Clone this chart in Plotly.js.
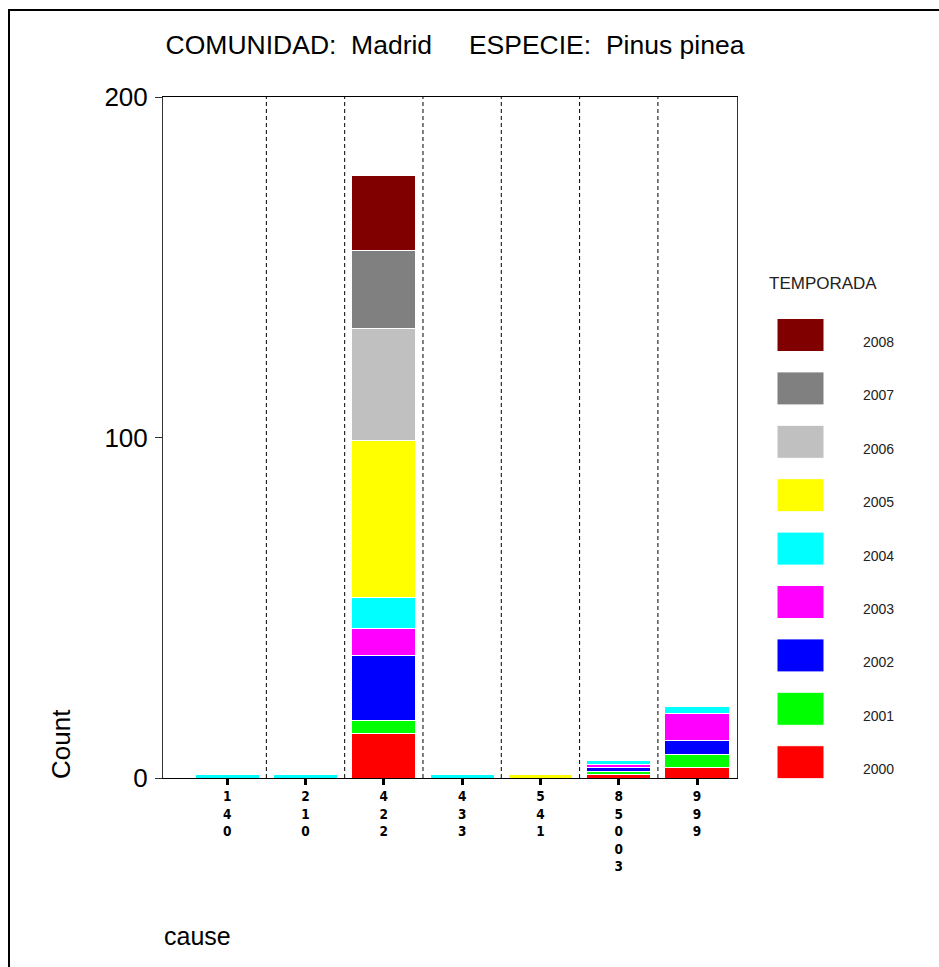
<!DOCTYPE html>
<html>
<head>
<meta charset="utf-8">
<script src="https://cdn.plot.ly/plotly-3.0.1.min.js"></script>
<style>
  html, body { margin: 0; padding: 0; background: #fff; overflow: hidden; }
  #frame { position: absolute; left: 8px; top: 9px; width: 1000px; height: 1000px; border: 2px solid #000; box-sizing: border-box; pointer-events: none; }
  #chart { position: absolute; left: 0; top: 0; width: 939px; height: 967px; }
</style>
</head>
<body>
<div id="chart"></div>
<div id="frame"></div>
<script>
// ---- data ----
const categories = ["140", "210", "422", "433", "541", "85003", "999"];
const years = ["2000", "2001", "2002", "2003", "2004", "2005", "2006", "2007", "2008"];
const colors = ["#FF0000", "#00FF00", "#0000FF", "#FF00FF", "#00FFFF", "#FFFF00", "#C0C0C0", "#808080", "#800000"];
const y2000 = [null, null, 13, null, null, 1, 3];
const y2001 = [null, null, 4, null, null, 1, 4];
const y2002 = [null, null, 19, null, null, 1, 4];
const y2003 = [null, null, 8, null, null, 1, 8];
const y2004 = [1, 1, 9, 1, null, 1, 2];
const y2005 = [null, null, 46, null, 1, null, null];
const y2006 = [null, null, 33, null, null, null, null];
const y2007 = [null, null, 23, null, null, null, null];
const y2008 = [null, null, 22, null, null, null, null];
const seriesValues = [y2000, y2001, y2002, y2003, y2004, y2005, y2006, y2007, y2008];
const yTicks = [0, 100, 200];
const titleText = "COMUNIDAD:\u00A0\u00A0Madrid\u00A0\u00A0\u00A0\u00A0\u00A0ESPECIE:\u00A0\u00A0Pinus pinea";
const legendTitle = "TEMPORADA";

// ---- layout geometry ----
const W = 939, H = 967;
const M = { l: 163, r: 202, t: 97, b: 189 };
const plotW = W - M.l - M.r, plotH = H - M.t - M.b;
const px2x = px => (px - M.l) / plotW;
const py2y = py => (H - M.b - py) / plotH;

const traces = years.map((yr, i) => ({
  type: "bar",
  name: yr,
  x: categories,
  y: seriesValues[i],
  width: 0.82,
  marker: { color: colors[i], line: { color: "#ffffff", width: 1 } },
  showlegend: false,
  hoverinfo: "skip"
}));

const shapes = [];
const annotations = [];
// dashed separators between categories
for (let k = 0; k < categories.length - 1; k++) {
  shapes.push({
    type: "line", xref: "x", yref: "paper",
    x0: k + 0.5, x1: k + 0.5, y0: 0, y1: 1,
    line: { color: "#000", width: 1, dash: "4px,3px" }, layer: "below"
  });
}
// custom legend (top = latest year)
const legOrder = years.map((y, i) => i).reverse();
legOrder.forEach((idx, row) => {
  const cy = 335 + row * 53.4;
  shapes.push({
    type: "rect", xref: "paper", yref: "paper",
    x0: px2x(777), x1: px2x(824), y0: py2y(cy + 16.5), y1: py2y(cy - 16.5),
    fillcolor: colors[idx], line: { color: "#ffffff", width: 1 }
  });
  annotations.push({
    xref: "paper", yref: "paper", x: px2x(861), y: py2y(cy + 7),
    xanchor: "left", yanchor: "middle", showarrow: false,
    text: years[idx], font: { family: "Liberation Sans, Arial, sans-serif", size: 14, color: "#222" }
  });
});
annotations.push({
  xref: "paper", yref: "paper", x: px2x(767), y: py2y(283),
  xanchor: "left", yanchor: "middle", showarrow: false,
  text: legendTitle, font: { family: "Liberation Sans, Arial, sans-serif", size: 17, color: "#222" }
});
// axis titles placed like the reference
annotations.push({
  xref: "paper", yref: "paper", x: px2x(61), y: py2y(781),
  xanchor: "center", yanchor: "bottom", showarrow: false, textangle: -90,
  text: "Count", font: { family: "Liberation Sans, Arial, sans-serif", size: 26, color: "#000" }
});
annotations.push({
  xref: "paper", yref: "paper", x: px2x(162), y: py2y(936),
  xanchor: "left", yanchor: "middle", showarrow: false,
  text: "cause", font: { family: "Liberation Sans, Arial, sans-serif", size: 25, color: "#000" }
});

const layout = {
  width: W, height: H,
  margin: M,
  paper_bgcolor: "#fff", plot_bgcolor: "#fff",
  barmode: "stack",
  bargap: 0,
  title: {
    text: titleText, xref: "container", yref: "container",
    x: 455 / W, xanchor: "center", y: 1 - 45 / H, yanchor: "middle",
    font: { family: "Liberation Sans, Arial, sans-serif", size: 26.5, color: "#000" }
  },
  xaxis: {
    type: "category",
    range: [-0.82, 6.51],
    tickvals: categories,
    ticktext: categories.map(c => "<b>" + c.split("").join("<br>") + "</b>"),
    ticks: "outside", ticklen: 6, tickwidth: 3, tickcolor: "#000",
    showline: true, linecolor: "#000", linewidth: 1, mirror: true,
    showgrid: false, zeroline: false,
    tickfont: { family: "Liberation Sans Narrow, DejaVu Sans Condensed, Arial Narrow, sans-serif", size: 13.5, color: "#000" },
    fixedrange: true
  },
  yaxis: {
    range: [0, 200],
    tickvals: yTicks,
    ticktext: yTicks.map(String),
    ticks: "outside", ticklen: 7, tickwidth: 1, tickcolor: "#333",
    showline: true, linecolor: "#333", linewidth: 1, mirror: true,
    showgrid: false, zeroline: false,
    tickfont: { family: "Liberation Sans, Arial, sans-serif", size: 26, color: "#000" },
    ticklabelstandoff: 2,
    fixedrange: true
  },
  shapes: shapes,
  annotations: annotations,
  showlegend: false
};

Plotly.newPlot("chart", traces, layout, { displayModeBar: false, staticPlot: true });
</script>
</body>
</html>
